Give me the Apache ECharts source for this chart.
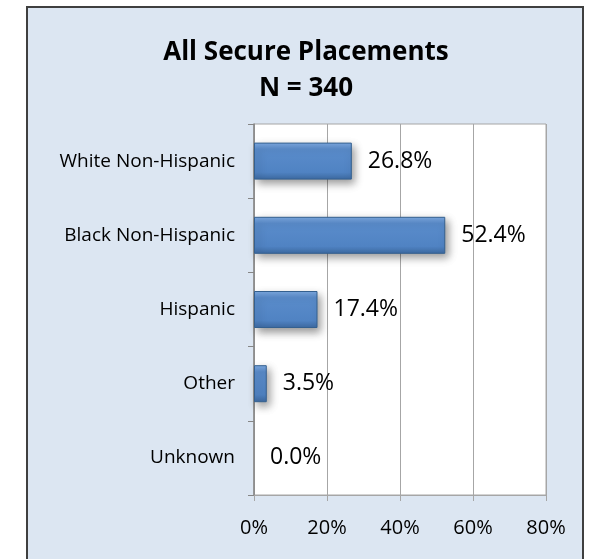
<!DOCTYPE html>
<html>
<head>
<meta charset="utf-8">
<script src="https://cdn.jsdelivr.net/npm/echarts@6/dist/echarts.min.js"></script>
<style>
  html, body { margin: 0; padding: 0; background: #ffffff; }
  #chart { width: 589px; height: 559px; }
</style>
</head>
<body>
<div id="chart"></div>
<script>
const titleText = 'All Secure Placements';
const subtitleText = 'N = 340';
const categories = ['White Non-Hispanic', 'Black Non-Hispanic', 'Hispanic', 'Other', 'Unknown'];
const percentValues = [26.8, 52.4, 17.4, 3.5, 0.0];
const axisTicks = [0, 20, 40, 60, 80];

const FONT = '"Open Sans", "Liberation Sans", sans-serif';

const chart = echarts.init(document.getElementById('chart'), null, { renderer: 'canvas' });

const barGradient = new echarts.graphic.LinearGradient(0, 0, 0, 1, [
  { offset: 0, color: '#7EAAE2' },
  { offset: 0.18, color: '#5A8CCB' },
  { offset: 0.8, color: '#5083C3' },
  { offset: 1, color: '#3D6AA2' }
]);

const seriesData = percentValues.map(v => {
  if (v === 0) {
    return {
      value: v,
      itemStyle: {
        color: 'rgba(0,0,0,0)', borderWidth: 0, borderColor: 'rgba(0,0,0,0)',
        shadowBlur: 0, shadowOffsetX: 0, shadowOffsetY: 0, shadowColor: 'rgba(0,0,0,0)'
      }
    };
  }
  return { value: v };
});

const option = {
  animation: false,
  backgroundColor: '#ffffff',
  graphic: [
    {
      type: 'rect',
      z: -10,
      silent: true,
      shape: { x: 27, y: 7, width: 556, height: 570 },
      style: { fill: '#DCE6F2', stroke: '#3F3F3F', lineWidth: 2 }
    }
  ],
  title: {
    text: titleText + '\n' + subtitleText,
    left: 306,
    top: 35,
    padding: 0,
    textAlign: 'center',
    textStyle: {
      fontFamily: FONT,
      fontWeight: 'bold',
      fontSize: 26,
      lineHeight: 36,
      color: '#000000'
    }
  },
  grid: {
    left: 254,
    right: 43,
    top: 124,
    bottom: 64,
    show: true,
    backgroundColor: '#ffffff',
    borderColor: '#A6A6A6',
    borderWidth: 1,
    containLabel: false
  },
  xAxis: {
    type: 'value',
    min: axisTicks[0],
    max: axisTicks[axisTicks.length - 1],
    interval: 20,
    axisLine: { show: true, lineStyle: { color: '#A6A6A6', width: 1 } },
    axisTick: { show: true, length: 6, lineStyle: { color: '#A6A6A6' } },
    splitLine: { show: true, lineStyle: { color: '#A6A6A6', width: 1 } },
    axisLabel: {
      formatter: v => v + '%',
      fontFamily: FONT,
      fontSize: 20,
      color: '#000000',
      margin: 23
    }
  },
  yAxis: {
    type: 'category',
    data: categories,
    inverse: true,
    axisLine: { show: true, lineStyle: { color: '#868686', width: 1.5 } },
    axisTick: { show: true, length: 6, lineStyle: { color: '#868686' } },
    splitLine: { show: false },
    axisLabel: {
      fontFamily: FONT,
      fontSize: 19,
      color: '#000000',
      margin: 19
    }
  },
  series: [
    {
      type: 'bar',
      data: seriesData,
      barWidth: 37,
      itemStyle: {
        color: barGradient,
        borderColor: '#34608F',
        borderWidth: 1,
        shadowColor: 'rgba(0,0,0,0.4)',
        shadowBlur: 8,
        shadowOffsetX: 3,
        shadowOffsetY: 4
      },
      label: {
        show: true,
        position: 'right',
        distance: 16,
        formatter: p => p.value.toFixed(1) + '%',
        fontFamily: FONT,
        fontSize: 23,
        color: '#000000'
      }
    }
  ]
};

chart.setOption(option);
</script>
</body>
</html>
